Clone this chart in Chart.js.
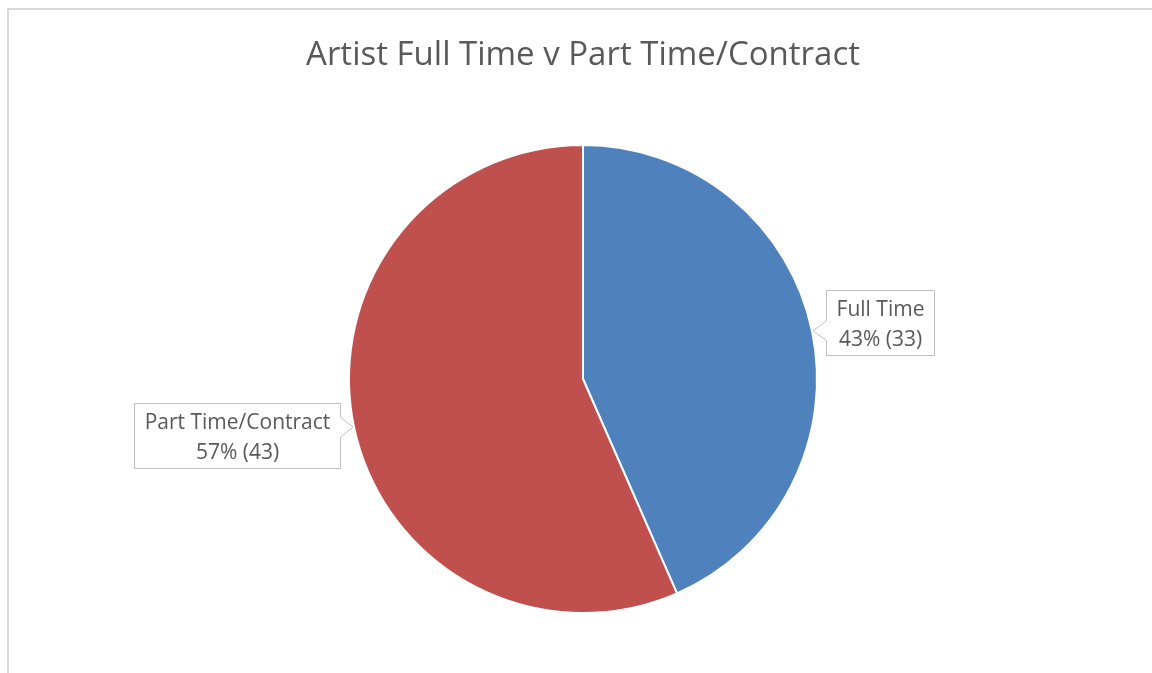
<!DOCTYPE html>
<html>
<head>
<meta charset="utf-8">
<title>Artist Full Time v Part Time/Contract</title>
<script src="https://cdn.jsdelivr.net/npm/chart.js@4.4.1/dist/chart.umd.min.js"></script>
<style>
  html, body { margin: 0; padding: 0; background: #fff; overflow: hidden; }
  #wrap { position: relative; width: 1152px; height: 673px; }
  #frame {
    position: absolute; left: 7px; top: 8px; width: 1200px; height: 700px;
    border-left: 2px solid #d9d9d9; border-top: 2px solid #d9d9d9;
    pointer-events: none;
  }
</style>
</head>
<body>
<div id="wrap">
  <canvas id="artistChart"></canvas>
  <div id="frame"></div>
</div>
<script>
// Số liệu biểu đồ
const categories = ['Full Time', 'Part Time/Contract'];
const artistCounts = [33, 43];
const sliceColors = ['#4f81bd', '#c0504d'];

const textColor = '#595959';
const labelFont = '21px "Open Sans", sans-serif';

// Plugin vẽ nhãn dạng callout (hộp chữ có mũi nhọn chỉ vào lát bánh)
const calloutPlugin = {
  id: 'callouts',
  afterDatasetsDraw(chart) {
    const ctx = chart.ctx;
    const meta = chart.getDatasetMeta(0);
    const data = chart.data.datasets[0].data;
    const total = data.reduce((a, b) => a + b, 0);

    ctx.save();
    ctx.font = labelFont;
    meta.data.forEach((arc, i) => {
      const { x, y, startAngle, endAngle, outerRadius } = arc.getProps(['x', 'y', 'startAngle', 'endAngle', 'outerRadius'], true);
      const mid = (startAngle + endAngle) / 2;
      const cos = Math.cos(mid), sin = Math.sin(mid);
      // đầu mũi nhọn nằm ngay mép ngoài lát bánh
      const tipX = x + (outerRadius + 1) * cos;
      const tipY = y + (outerRadius + 1) * sin;

      const pct = Math.round(data[i] / total * 100);
      const lines = [chart.data.labels[i], pct + '% (' + data[i] + ')'];
      const textW = Math.max(...lines.map(t => ctx.measureText(t).width));
      const boxW = Math.round(textW + 20);
      const boxH = 65;
      const gap = 13;
      const right = cos >= 0;
      const bx = Math.round(right ? tipX + gap : tipX - gap - boxW) + 0.5;
      const by = Math.round(tipY + 40 * sin - boxH / 2) + 0.5;
      const edgeX = right ? bx : bx + boxW;
      const p1 = Math.max(by + 2, tipY - 10);
      const p2 = Math.min(by + boxH - 2, tipY + 10);

      ctx.beginPath();
      ctx.moveTo(bx, by);
      ctx.lineTo(bx + boxW, by);
      if (!right) {
        ctx.lineTo(edgeX, p1);
        ctx.lineTo(tipX, tipY);
        ctx.lineTo(edgeX, p2);
      }
      ctx.lineTo(bx + boxW, by + boxH);
      ctx.lineTo(bx, by + boxH);
      if (right) {
        ctx.lineTo(edgeX, p2);
        ctx.lineTo(tipX, tipY);
        ctx.lineTo(edgeX, p1);
      }
      ctx.closePath();
      ctx.fillStyle = '#ffffff';
      ctx.fill();
      ctx.strokeStyle = '#bfbfbf';
      ctx.lineWidth = 1;
      ctx.stroke();

      ctx.fillStyle = textColor;
      ctx.textAlign = 'center';
      ctx.textBaseline = 'middle';
      const cx = bx + boxW / 2;
      const cy = by + boxH / 2;
      ctx.fillText(lines[0], cx, cy - 13);
      ctx.fillText(lines[1], cx, cy + 17);
    });
    ctx.restore();
  }
};

new Chart(document.getElementById('artistChart'), {
  type: 'pie',
  data: {
    labels: categories,
    datasets: [{
      data: artistCounts,
      backgroundColor: sliceColors,
      borderColor: '#ffffff',
      borderWidth: 2
    }]
  },
  options: {
    responsive: true,
    maintainAspectRatio: false,
    animation: false,
    events: [],
    layout: { padding: { left: 14, right: 0, top: 0, bottom: 59 } },
    plugins: {
      legend: { display: false },
      tooltip: { enabled: false },
      title: {
        display: true,
        text: 'Artist Full Time v Part Time/Contract',
        color: textColor,
        font: { family: '"Open Sans", sans-serif', size: 33, weight: 'normal', lineHeight: 1.2 },
        padding: { top: 36, bottom: 68.4 }
      }
    }
  },
  plugins: [calloutPlugin]
});
</script>
</body>
</html>
